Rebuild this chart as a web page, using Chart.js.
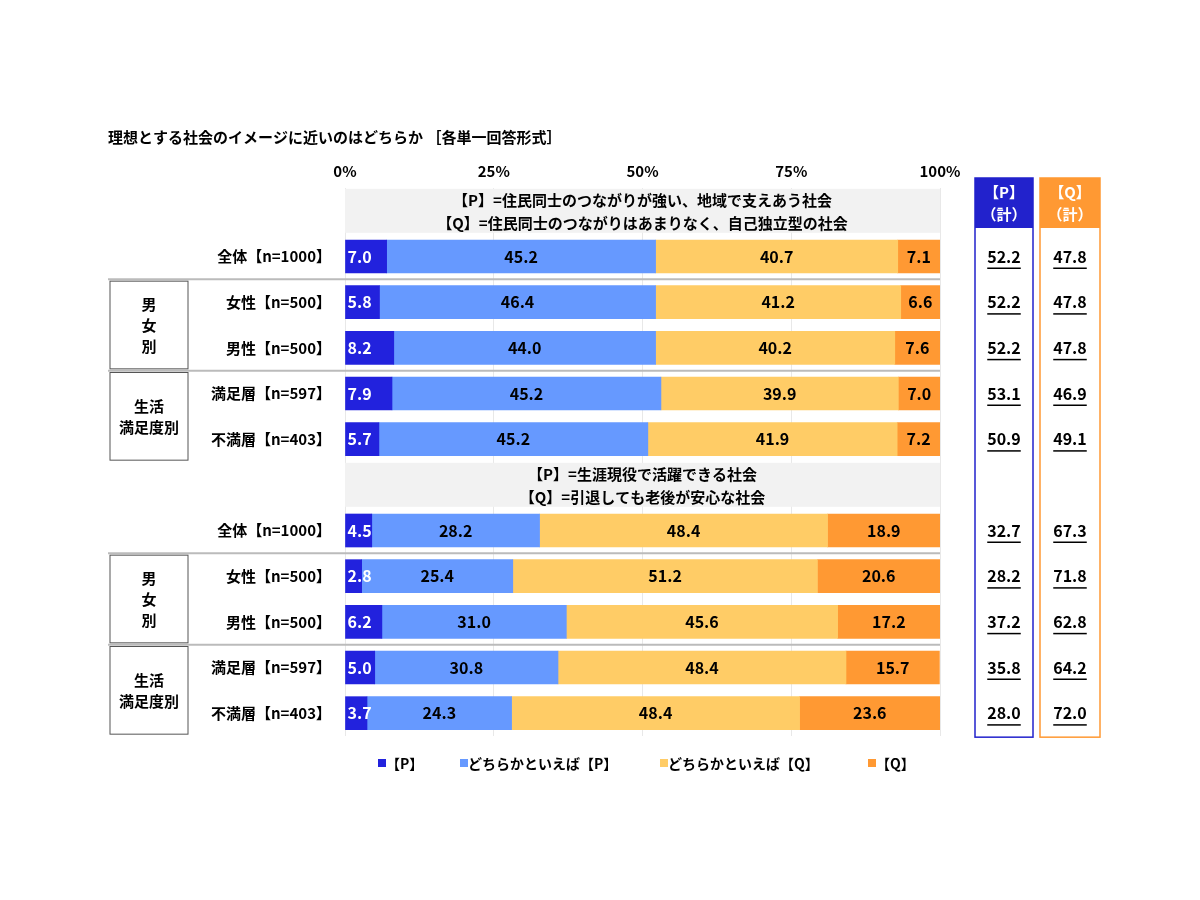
<!DOCTYPE html>
<html><head><meta charset="utf-8">
<script src="https://cdn.jsdelivr.net/npm/chart.js@4"></script>
<style>html,body{margin:0;background:#fff}#wrap{width:1200px;height:900px;position:relative}</style>
</head><body><div id="wrap"><canvas id="c"></canvas></div>
<script>
var rowLabels = ['', '全体【n=1000】', '女性【n=500】', '男性【n=500】', '満足層【n=597】', '不満層【n=403】',
                 '', '全体【n=1000】', '女性【n=500】', '男性【n=500】', '満足層【n=597】', '不満層【n=403】'];
var seriesNames = ['【P】', 'どちらかといえば【P】', 'どちらかといえば【Q】', '【Q】'];
var pVals   = [null, 7.0, 5.8, 8.2, 7.9, 5.7, null, 4.5, 2.8, 6.2, 5.0, 3.7];
var pmVals  = [null, 45.2, 46.4, 44.0, 45.2, 45.2, null, 28.2, 25.4, 31.0, 30.8, 24.3];
var qmVals  = [null, 40.7, 41.2, 40.2, 39.9, 41.9, null, 48.4, 51.2, 45.6, 48.4, 48.4];
var qVals   = [null, 7.1, 6.6, 7.6, 7.0, 7.2, null, 18.9, 20.6, 17.2, 15.7, 23.6];
var pTotal  = [null, '52.2', '52.2', '52.2', '53.1', '50.9', null, '32.7', '28.2', '37.2', '35.8', '28.0'];
var qTotal  = [null, '47.8', '47.8', '47.8', '46.9', '49.1', null, '67.3', '71.8', '62.8', '64.2', '72.0'];
var headers = {0: ['【P】=住民同士のつながりが強い、地域で支えあう社会', '【Q】=住民同士のつながりはあまりなく、自己独立型の社会'],
               6: ['【P】=生涯現役で活躍できる社会', '【Q】=引退しても老後が安心な社会']};
var colors = ['#2222dd', '#6699ff', '#ffcc66', '#ff9933'];
var FONT = '"Noto Sans CJK JP", sans-serif';

var decor = {
  id: 'decor',
  beforeDatasetsDraw: function (chart) {
    var ctx = chart.ctx, y = chart.scales.y, x = chart.scales.x;
    var L = x.left, R = x.right;
    ctx.save();
    Object.keys(headers).forEach(function (k) {
      var i = +k, cy = y.getPixelForValue(i);
      ctx.fillStyle = '#f2f2f2';
      ctx.fillRect(L, cy - 22, R - L, 44);
      ctx.fillStyle = '#000';
      ctx.font = 'bold 15px ' + FONT;
      ctx.textAlign = 'center';
      ctx.textBaseline = 'middle';
      ctx.fillText(headers[k][0], (L + R) / 2, cy - 11);
      ctx.fillText(headers[k][1], (L + R) / 2, cy + 12);
    });
    ctx.restore();
  },
  afterDatasetsDraw: function (chart) {
    var ctx = chart.ctx, y = chart.scales.y, x = chart.scales.x;
    var L = x.left, R = x.right;
    ctx.save();
    // value labels
    chart.data.datasets.forEach(function (ds, di) {
      chart.getDatasetMeta(di).data.forEach(function (bar, i) {
        var v = ds.data[i];
        if (v == null) return;
        ctx.font = 'bold 16px ' + FONT;
        ctx.fillStyle = di === 0 ? '#fff' : '#000';
        ctx.textBaseline = 'middle';
        ctx.textAlign = di === 0 ? 'left' : 'center';
        var tx = di === 0 ? bar.base + 2 : (bar.x + bar.base) / 2;
        ctx.fillText(v.toFixed(1), tx, bar.y);
      });
    });
    // row labels
    ctx.font = 'bold 15px ' + FONT;
    ctx.fillStyle = '#000';
    ctx.textAlign = 'right';
    rowLabels.forEach(function (t, i) {
      if (t) ctx.fillText(t, L - 14, y.getPixelForValue(i));
    });
    // separators
    ctx.strokeStyle = '#bbbbbb';
    ctx.lineWidth = 2;
    [1.5, 3.5, 7.5, 9.5].forEach(function (p) {
      var py = (y.getPixelForValue(Math.floor(p)) + y.getPixelForValue(Math.ceil(p))) / 2;
      ctx.beginPath(); ctx.moveTo(108, py); ctx.lineTo(R, py); ctx.stroke();
    });
    // group boxes
    ctx.strokeStyle = '#555';
    ctx.lineWidth = 1;
    ctx.textAlign = 'center';
    ctx.font = 'bold 15px ' + FONT;
    [[2, 3, ['男', '女', '別']], [4, 5, ['生活', '満足度別']], [8, 9, ['男', '女', '別']], [10, 11, ['生活', '満足度別']]].forEach(function (g) {
      var t = y.getPixelForValue(g[0]) - 21, b = y.getPixelForValue(g[1]) + 21;
      ctx.strokeRect(110, t, 78, b - t);
      var n = g[2].length, cy = (t + b) / 2;
      g[2].forEach(function (s, j) { ctx.fillText(s, 149, cy + (j - (n - 1) / 2) * 21); });
    });
    // total columns
    var top = 178, bot = y.getPixelForValue(11) + 24;
    [[975, 1033, '#2222cc', '【P】', pTotal], [1040, 1100, '#ff9933', '【Q】', qTotal]].forEach(function (c) {
      var cx = (c[0] + c[1]) / 2;
      ctx.fillStyle = c[2];
      ctx.fillRect(c[0], top, c[1] - c[0], 50);
      ctx.strokeStyle = c[2];
      ctx.lineWidth = 1.5;
      ctx.strokeRect(c[0], top, c[1] - c[0], bot - top);
      ctx.fillStyle = '#fff';
      ctx.font = 'bold 15px ' + FONT;
      ctx.fillText(c[3], cx, top + 14);
      ctx.fillText('（計）', cx, top + 36);
      ctx.fillStyle = '#000';
      ctx.font = 'bold 16px ' + FONT;
      c[4].forEach(function (t, i) {
        if (!t) return;
        var py = y.getPixelForValue(i);
        ctx.fillText(t, cx, py);
        var w = ctx.measureText(t).width;
        ctx.fillRect(cx - w / 2, py + 11, w, 1.5);
      });
    });
    // title
    ctx.textAlign = 'left';
    ctx.font = 'bold 15px ' + FONT;
    ctx.fillText('理想とする社会のイメージに近いのはどちらか ［各単一回答形式］', 108, 137);
    // legend
    var lx = [378, 460, 660, 868];
    ctx.font = 'bold 14px ' + FONT;
    seriesNames.forEach(function (s, i) {
      ctx.fillStyle = colors[i];
      ctx.fillRect(lx[i], 759, 8, 8);
      ctx.fillStyle = '#000';
      ctx.fillText(s, lx[i] + 8, 764);
    });
    ctx.restore();
  }
};

new Chart(document.getElementById('c'), {
  type: 'bar',
  data: {
    labels: rowLabels,
    datasets: [pVals, pmVals, qmVals, qVals].map(function (d, i) {
      return { label: seriesNames[i], data: d, backgroundColor: colors[i], barThickness: 33, borderWidth: 0 };
    })
  },
  options: {
    indexAxis: 'y',
    responsive: true,
    maintainAspectRatio: false,
    animation: false,
    layout: { padding: { left: 345, right: 260, top: 154, bottom: 164 } },
    plugins: { legend: { display: false }, tooltip: { enabled: false } },
    scales: {
      x: {
        stacked: true, min: 0, max: 100, position: 'top',
        grid: { color: '#e8e8e8', drawTicks: false },
        border: { display: false },
        ticks: { stepSize: 25, padding: 8, color: '#000', font: { family: FONT, size: 15, weight: 'bold' },
                 callback: function (v) { return v + '%'; } }
      },
      y: { stacked: true, display: false }
    }
  },
  plugins: [decor]
});
</script></body></html>
